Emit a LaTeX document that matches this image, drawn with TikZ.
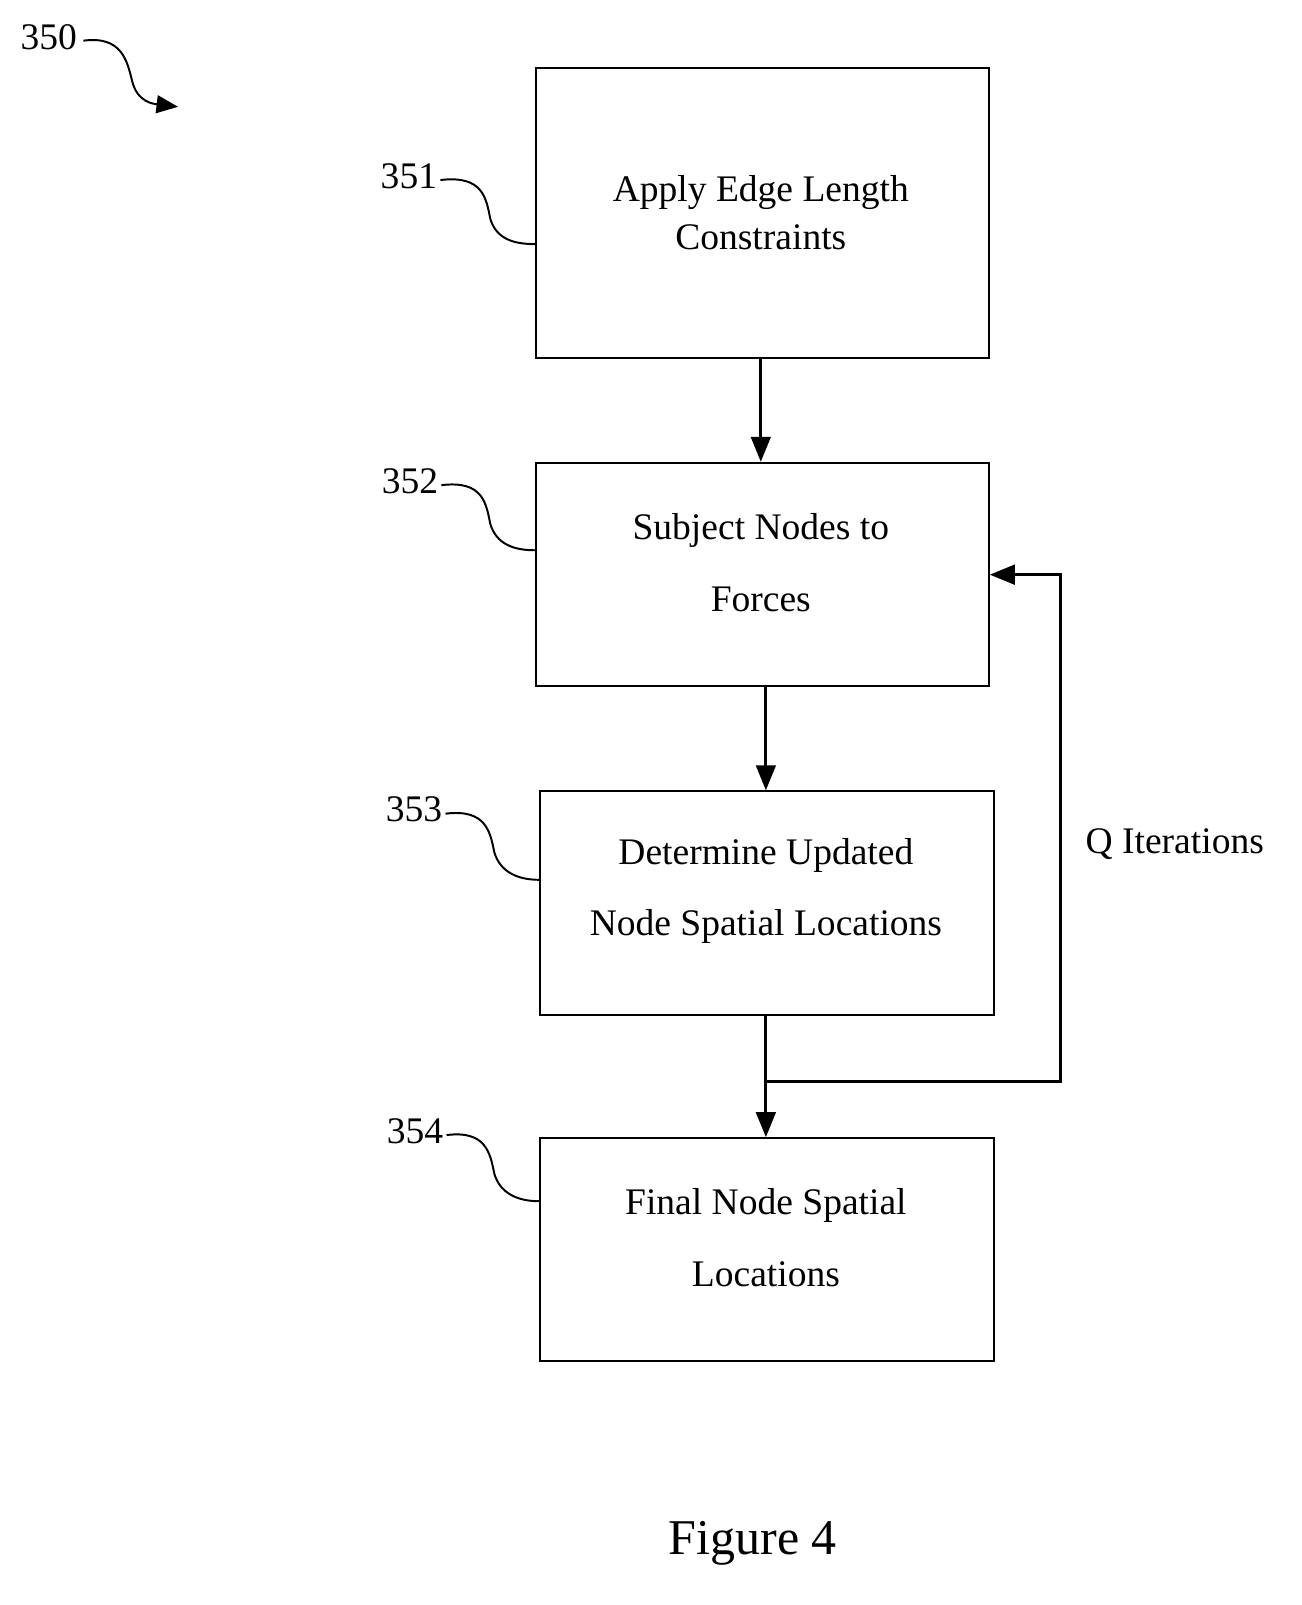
\documentclass[tikz,border=0pt]{standalone}
\usepackage{fontspec}
\setmainfont{Liberation Serif}
\usetikzlibrary{arrows.meta}
\begin{document}
\begin{tikzpicture}[x=0.02cm,y=-0.02cm,
 box/.style={draw,line width=1.2pt,anchor=north west,inner sep=0pt,align=center},
 arr/.style={line width=1.6pt,-{Triangle[length=14pt,width=11pt]}},
 lbl/.style={font=\fontsize{21}{24}\selectfont},
 sq/.style={line width=1.1pt}]
\useasboundingbox (0,0) rectangle (1280,1578);
\node[box,minimum width=445*0.02cm,minimum height=285*0.02cm] (b1) at (526,66) {};
\node[align=center,font=\fontsize{21}{27}\selectfont] (t1) at (748,209) {Apply Edge Length\\Constraints};
\node[box,minimum width=445*0.02cm,minimum height=219*0.02cm] (b2) at (526,454) {};
\node[align=center,font=\fontsize{21}{40}\selectfont] (t2) at (748,553) {Subject Nodes to\\Forces};
\node[box,minimum width=446*0.02cm,minimum height=220*0.02cm] (b3) at (530,777) {};
\node[align=center,font=\fontsize{21}{40}\selectfont] (t3) at (753,876) {Determine Updated\\Node Spatial Locations};
\node[box,minimum width=446*0.02cm,minimum height=219*0.02cm] (b4) at (530,1118) {};
\node[align=center,font=\fontsize{21}{40}\selectfont] (t4) at (753,1217) {Final Node Spatial\\Locations};
\draw[arr] (b1.south -| 748,0) -- (b2.north -| 748,0);
\draw[arr] (b2.south -| 753,0) -- (b3.north -| 753,0);
\draw[arr] (b3.south -| 753,0) -- (b4.north -| 753,0);
\coordinate (j) at (753,1063);
\draw[arr] (j) -- (1043,1063) -- (1043,565) -- (b2.east |- 0,565);
\node[lbl] (q) at (1155,830) {Q Iterations};
\node[font=\fontsize{28}{30}\selectfont] (fig) at (740,1517) {Figure 4};
\node[lbl] (l350) at (48,37) {350};
\draw[sq,-{Triangle[length=12pt,width=10pt]}] (82,40) .. controls (120,35) and (125,60) .. (130,80) .. controls (135,100) and (150,102) .. (175,105);
\node[lbl] (l351) at (402,173) {351};
\draw[sq] (433,177) .. controls (475,172) and (478,195) .. (482,215) .. controls (488,235) and (505,240) .. (526,240);
\node[lbl] (l352) at (403,473) {352};
\draw[sq] (434,477) .. controls (475,472) and (478,495) .. (482,515) .. controls (488,535) and (505,541) .. (526,541);
\node[lbl] (l353) at (407,796) {353};
\draw[sq] (438,800) .. controls (478,795) and (482,818) .. (486,838) .. controls (492,858) and (510,865) .. (530,865);
\node[lbl] (l354) at (408,1112) {354};
\draw[sq] (439,1116) .. controls (478,1111) and (482,1134) .. (486,1154) .. controls (492,1174) and (510,1181) .. (530,1181);
\end{tikzpicture}
\end{document}
